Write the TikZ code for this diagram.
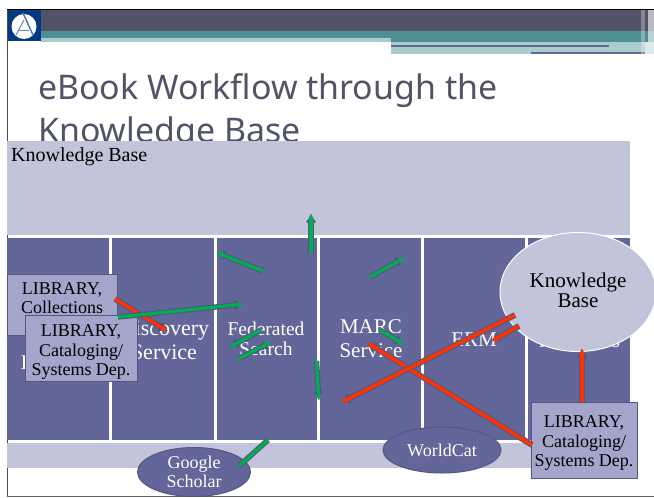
\documentclass[tikz,border=0pt]{standalone}
\usepackage{fontspec}
\setmainfont{Liberation Serif}
\newfontfamily\titlefont{Noto Sans}
\usetikzlibrary{arrows.meta,shapes.geometric}
\definecolor{headdark}{RGB}{82,83,102}
\definecolor{headteal}{RGB}{80,142,150}
\definecolor{headlight}{RGB}{168,204,204}
\definecolor{logoblue}{RGB}{0,58,128}
\definecolor{bandlight}{RGB}{194,196,218}
\definecolor{colpurple}{RGB}{99,102,153}
\definecolor{boxfill}{RGB}{163,165,203}
\definecolor{edgedark}{RGB}{84,86,130}
\definecolor{arrowgreen}{RGB}{0,176,80}
\definecolor{arrowred}{RGB}{255,51,0}
\tikzset{
  column/.style={fill=colpurple,draw=none},
  collabel/.style={text=white,align=center,font=\fontsize{21}{24}\selectfont},
  libbox/.style={draw=edgedark,line width=1pt,fill=boxfill,inner sep=0pt,anchor=north west},
  libtext/.style={align=center,font=\fontsize{18}{19.5}\selectfont,inner sep=0pt},
  srcoval/.style={ellipse,draw=edgedark,line width=1pt,fill=colpurple,text=white,align=center,font=\fontsize{18}{19}\selectfont,inner sep=0pt},
  greenflow/.style={preaction={draw=edgedark,line width=5.4pt,-{Latex[length=9pt,width=11pt]}},draw=arrowgreen,line width=3.2pt,shorten >=1.5pt,-{Latex[length=6pt,width=6.5pt]}},
  redflow/.style={preaction={draw=edgedark,line width=5.8pt,-{Latex[length=9pt,width=12pt]}},draw=arrowred,line width=3.6pt,shorten >=1.5pt,-{Latex[length=6pt,width=7pt]}},
}
\begin{document}
\begin{tikzpicture}[x=1pt,y=-1pt]
    \useasboundingbox (0,0) rectangle (654,498);
    \fill[white] (0,0) rectangle (654,498);

    % Header bars
    \fill[headdark] (41,10) rectangle (654,31);
    \fill[headteal] (41,31) rectangle (654,38);
    \fill[headlight] (41,38) rectangle (391,42);
    \fill[headteal] (391,38) rectangle (654,42);
    \fill[headlight] (391,42) rectangle (654,54);
    \fill[colpurple] (391,45) rectangle (609,46.7);
    \fill[colpurple] (531,52) rectangle (645,54);
    \fill[white,opacity=0.3] (641,10) rectangle (645,54);
    \fill[white,opacity=0.6] (648,10) rectangle (654,54);
    \fill[white,opacity=0.6] (645,42) rectangle (648,54);

    % Logo
    \fill[logoblue] (7,10) rectangle (41,41);
    \fill[white] (24,26.5) circle (12.5);
    \draw[logoblue!70,line width=1.4pt] (23,13) -- (33,35);
    \draw[logoblue!60,line width=1pt] (24,20) -- (16,35);
    \draw[logoblue!60,line width=1pt] (19,30) -- (29,30);

    % Frame
    \draw[black!70,line width=0.8pt] (7,10) -- (7,496);
    \draw[black,line width=1pt] (7,9.5) -- (654,9.5);
    \fill[black!60] (7,495.5) rectangle (654,497);

    % Title
    \node[anchor=base west,inner sep=0pt,text=headdark,font=\titlefont\fontsize{33.9}{40}\selectfont] (titleone) at (38,99) {eBook Workflow through the};
    \node[anchor=base west,inner sep=0pt,text=headdark,font=\titlefont\fontsize{33.9}{40}\selectfont] (titletwo) at (38,142) {Knowledge Base};

    % Bands
    \fill[bandlight] (7,141) rectangle (630,235);
    \fill[bandlight] (7,443) rectangle (630,468);
    \node[anchor=base west,inner sep=0pt,font=\fontsize{20}{22}\selectfont] (kbband) at (11,161) {Knowledge Base};

    % Columns
    \fill[column] (7,238) rectangle (109,440);
    \fill[column] (112,238) rectangle (214,440);
    \fill[column] (216.5,238) rectangle (317,440);
    \fill[column] (320,238) rectangle (421,440);
    \fill[column] (424,238) rectangle (525,440);
    \fill[column] (528,238) rectangle (630,440);
    \node[collabel] (firstcol) at (24,363) {I};
    \node[collabel,font=\fontsize{22}{24}\selectfont] (discovery) at (164,340) {Discovery\\Service};
    \node[collabel,font=\fontsize{19.5}{19.5}\selectfont] (federated) at (266,339) {Federated\\Search};
    \node[collabel] (marc) at (371,339) {MARC\\Service};
    \node[collabel] (erm) at (474,340) {ERM};
    \node[collabel,anchor=base] (lastcola) at (547,347) {A};
    \node[collabel,anchor=base] (lastcolb) at (616,347) {s};

    % Knowledge base circle
    \node[ellipse,draw=white,line width=1pt,fill=bandlight,minimum width=156pt,minimum height=119pt,align=center,inner sep=0pt,font=\fontsize{21}{20}\selectfont] (kbcircle) at (578,292) {Knowledge\\Base\\[-17pt]\mbox{}};

    % Library boxes
    \node[libbox,minimum width=110pt,minimum height=61pt] (libcoll) at (7,274) {};
    \node[libtext] (libcolltext) at (62,298) {LIBRARY,\\Collections};
    \node[libbox,minimum width=112pt,minimum height=66pt] (libcat) at (25,315) {};
    \node[libtext] (libcattext) at (81,352) {LIBRARY,\\Cataloging/\\Systems Dep.};
    \node[libbox,minimum width=106pt,minimum height=76pt] (libcatb) at (531,402) {};
    \node[libtext] (libcatbtext) at (584,443) {LIBRARY,\\Cataloging/\\Systems Dep.};

    % Source ovals
    \node[srcoval,minimum width=113pt,minimum height=49pt] (scholar) at (194,472) {Google\\Scholar};
    \node[srcoval,minimum width=118pt,minimum height=46pt] (worldcat) at (442,450) {WorldCat};

    % Arrow ends
    \coordinate (upa) at (311,253);
    \coordinate (upb) at (311,212);
    \coordinate (lefta) at (263,271);
    \coordinate (leftb) at (215,252);
    \coordinate (righta) at (370,277);
    \coordinate (rightb) at (406,257);
    \coordinate (longa) at (118,317);
    \coordinate (longb) at (245,304);
    \coordinate (feda) at (261,330);
    \coordinate (fedb) at (228,348);
    \coordinate (fedc) at (238,359);
    \coordinate (fedd) at (273,341);
    \coordinate (downa) at (316.5,361);
    \coordinate (downb) at (319,402);
    \coordinate (schola) at (268,440);
    \coordinate (scholb) at (239,466);
    \coordinate (marca) at (380,330);
    \coordinate (marcb) at (405,345);
    \coordinate (colla) at (115,299);
    \coordinate (collb) at (169,332);
    \coordinate (kba) at (515,315);
    \coordinate (kbb) at (340,403);
    \coordinate (kbc) at (519,326);
    \coordinate (kbd) at (490,342);
    \coordinate (cata) at (532,445);
    \coordinate (catb) at (366,342);
    \coordinate (kbtip) at (582,347);

    % Red flows
    \draw[redflow] (colla) -- (collb);
    \draw[redflow] (cata) -- (catb);
    \draw[redflow] (kba) -- (kbb);
    \draw[redflow] (kbc) -- (kbd);
    \draw[redflow] (libcatb.north -| kbtip) -- (kbtip);

    % Green flows
    \draw[greenflow] (upa) -- (upb);
    \draw[greenflow] (lefta) -- (leftb);
    \draw[greenflow] (righta) -- (rightb);
    \draw[greenflow] (longa) -- (longb);
    \draw[greenflow] (feda) -- (fedb);
    \draw[greenflow] (fedc) -- (fedd);
    \draw[greenflow] (downa) -- (downb);
    \draw[preaction={draw=edgedark,line width=5.4pt},draw=arrowgreen,line width=3.2pt] (schola) -- (scholb);
    \draw[greenflow] (marca) -- (marcb);
\end{tikzpicture}
\end{document}
